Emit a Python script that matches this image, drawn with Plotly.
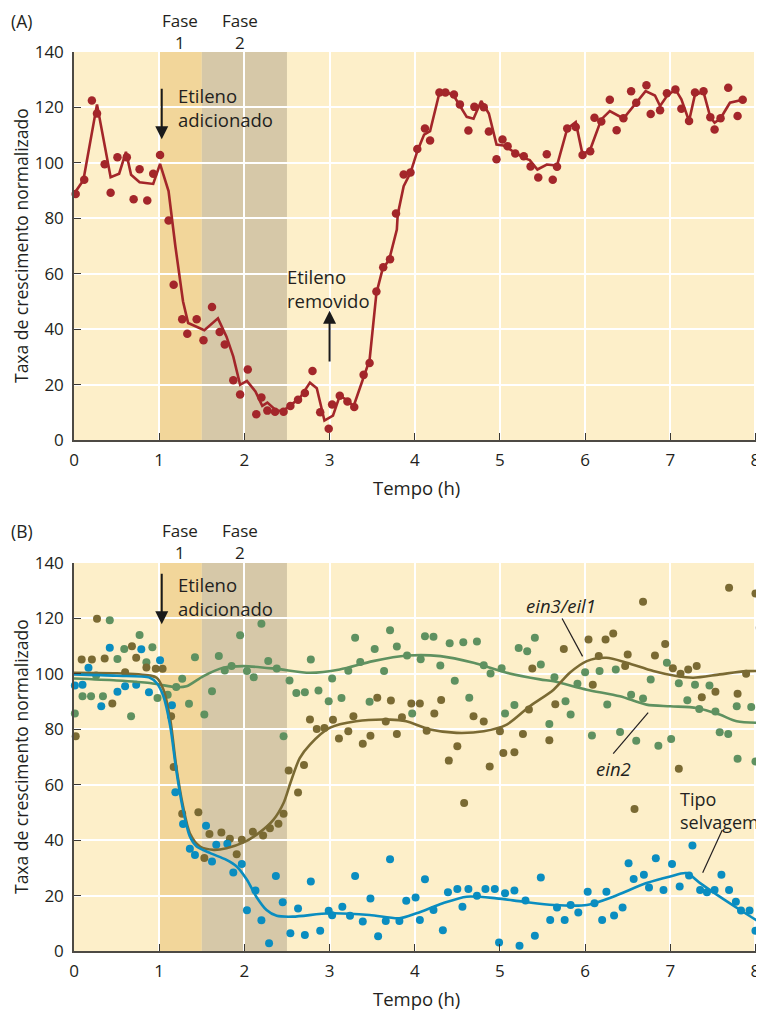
import plotly.graph_objects as go

# ---------------- Panel A data ----------------
a_time = [0.02, 0.12, 0.21, 0.27, 0.36, 0.43, 0.51, 0.62, 0.70, 0.77, 0.86, 0.93, 1.01, 1.11, 1.17,
          1.27, 1.33, 1.44, 1.52, 1.62, 1.71, 1.77, 1.87, 1.95, 2.04, 2.14, 2.20, 2.27, 2.36, 2.46,
          2.54, 2.63, 2.71, 2.80, 2.89, 2.99, 3.03, 3.12, 3.21, 3.29, 3.40, 3.47, 3.55, 3.63, 3.71,
          3.78, 3.87, 3.95, 4.03, 4.12, 4.18, 4.29, 4.36, 4.46, 4.53, 4.63, 4.70, 4.81, 4.87, 4.96,
          5.03, 5.09, 5.18, 5.28, 5.36, 5.45, 5.55, 5.62, 5.67, 5.79, 5.89, 5.97, 6.06, 6.11, 6.19,
          6.29, 6.37, 6.45, 6.54, 6.60, 6.72, 6.77, 6.88, 6.96, 7.06, 7.13, 7.22, 7.29, 7.39, 7.47,
          7.52, 7.59, 7.68, 7.79, 7.85]
a_rate = [88.8, 93.9, 122.5, 117.8, 99.5, 89.2, 102, 102, 86.9, 97.7, 86.4, 96.1, 102.8, 79.2, 56,
          43.6, 38.3, 43.6, 36, 48, 39, 34.5, 21.6, 16.4, 25.4, 9.3, 15.3, 10.6, 10.2, 10.2,
          12.3, 14.5, 17, 24.9, 10, 4.1, 12.8, 16, 13.9, 11.9, 23.5, 27.8, 53.6, 62.3, 65.2,
          81.7, 95.8, 96.5, 105, 112.4, 108.1, 125.4, 125.4, 124.7, 121.1, 111.7, 120.2, 120.1, 111.3, 101.3,
          108.4, 106, 103.4, 102.4, 98.7, 94.7, 103.1, 93.9, 98.6, 112.4, 112.9, 102.8, 104.2, 116.3, 114.9,
          122.8, 111.8, 116.1, 125.8, 121.7, 128, 117.6, 119, 125.1, 126.5, 119.5, 115.1, 125.4, 125.8, 116.5,
          112, 116.1, 127.1, 116.9, 122.8]

a_line_time = [0.0, 0.11, 0.27, 0.43, 0.53, 0.61, 0.67, 0.77, 0.93, 1.01, 1.11, 1.19, 1.28, 1.34, 1.53,
               1.69, 1.79, 1.87, 1.95, 2.03, 2.13, 2.21, 2.27, 2.38, 2.46, 2.54, 2.65, 2.77, 2.85, 2.94,
               3.04, 3.12, 3.22, 3.28, 3.47, 3.55, 3.62, 3.70, 3.79, 3.80, 3.87, 3.95, 4.03, 4.11, 4.18,
               4.29, 4.36, 4.46, 4.53, 4.61, 4.69, 4.78, 4.87, 4.96, 5.04, 5.19, 5.28, 5.35, 5.44, 5.55,
               5.67, 5.79, 5.89, 5.97, 6.06, 6.19, 6.29, 6.45, 6.60, 6.71, 6.82, 6.88, 6.96, 7.06, 7.13,
               7.22, 7.29, 7.39, 7.47, 7.52, 7.59, 7.70, 7.85]
a_line_rate = [88.8, 93.7, 121.1, 94.8, 96.1, 104, 95.7, 93, 92.4, 99.6, 89.8, 69.9, 50, 42.2, 39.6,
               43.9, 37.3, 30.1, 19.9, 21.3, 17.5, 12.3, 13.5, 10.5, 10.6, 12.5, 15.1, 20.7, 18.7, 7,
               8.8, 15.9, 14.2, 12, 28.9, 53, 61.4, 65.1, 75.9, 81.3, 91.6, 96.4, 104.2, 110.2, 111.4,
               125.3, 125.9, 124.1, 120.5, 116.6, 115.9, 122.3, 117.8, 106.6, 106.3, 103.4, 101.8, 101, 97.6, 99.4,
               99, 112.3, 114.7, 103, 104.8, 115.7, 118.7, 116, 121.7, 125.9, 124.3, 120.5, 124.1, 126.5, 122.9,
               115.1, 124.7, 125.5, 116.5, 114.5, 116.1, 121.7, 122.8]

# ---------------- Panel B data ----------------
wt_time = [0.01, 0.10, 0.17, 0.32, 0.42, 0.51, 0.60, 0.73, 0.79, 0.88, 1.01, 1.15, 1.19, 1.28, 1.36,
           1.42, 1.55, 1.62, 1.67, 1.80, 1.87, 1.97, 2.03, 2.13, 2.20, 2.29, 2.37, 2.45, 2.54, 2.63,
           2.71, 2.78, 2.89, 2.99, 3.03, 3.15, 3.24, 3.30, 3.39, 3.48, 3.57, 3.66, 3.71, 3.82, 3.90,
           4.01, 4.06, 4.12, 4.22, 4.33, 4.39, 4.50, 4.56, 4.63, 4.73, 4.83, 4.94, 4.99, 5.06, 5.17,
           5.23, 5.30, 5.41, 5.48, 5.59, 5.67, 5.76, 5.83, 5.92, 6.03, 6.11, 6.20, 6.25, 6.34, 6.44,
           6.51, 6.57, 6.69, 6.75, 6.83, 6.92, 7.02, 7.11, 7.22, 7.26, 7.35, 7.43, 7.52, 7.60, 7.69,
           7.77, 7.83, 7.93, 8.00, 8.07]
wt_rate = [95.8, 96.1, 102.2, 88.3, 109.4, 93.5, 95.5, 96.1, 108.9, 93.4, 104.9, 88.7, 57.3, 45.8, 36.9,
           34.6, 45.2, 32.3, 38.3, 38.7, 28.3, 31.4, 14.7, 21.8, 11.1, 2.8, 27.1, 17.6, 6.4, 15.3,
           5.8, 25.1, 7.3, 14.5, 12.9, 16, 12.7, 27.1, 10.6, 18.9, 5.3, 10.8, 33.1, 10.8, 18.1,
           19.3, 11.2, 25.9, 14.8, 7.5, 21.2, 22.4, 16, 22.4, 19.9, 22.4, 22.4, 3.1, 20.8, 21.8,
           1.9, 18.2, 5.5, 26.5, 11.2, 15.7, 11.2, 16.6, 13.9, 21.4, 17.2, 11.2, 21.4, 12.8, 15.7,
           31.7, 26, 27.5, 22.9, 33.5, 22, 31.4, 23.3, 27.2, 38.1, 22, 21.2, 22, 27.5, 22,
           17.8, 14.6, 14.6, 7.3, 10.2]

ein3_time = [0.02, 0.09, 0.21, 0.27, 0.36, 0.45, 0.60, 0.68, 0.73, 0.85, 0.96, 1.04, 1.14, 1.17, 1.27,
             1.46, 1.53, 1.59, 1.73, 1.83, 1.91, 1.97, 2.10, 2.22, 2.30, 2.40, 2.46, 2.52, 2.63, 2.70,
             2.77, 2.85, 2.94, 3.04, 3.11, 3.22, 3.28, 3.39, 3.48, 3.56, 3.66, 3.72, 3.79, 3.85, 3.96,
             4.06, 4.14, 4.23, 4.31, 4.40, 4.50, 4.58, 4.69, 4.81, 4.88, 5.00, 5.04, 5.17, 5.27, 5.34,
             5.38, 5.58, 5.65, 5.75, 6.04, 6.09, 6.16, 6.24, 6.33, 6.47, 6.50, 6.58, 6.68, 6.82, 6.94,
             7.03, 7.10, 7.12, 7.21, 7.31, 7.37, 7.53, 7.69, 7.79, 7.89, 8.00, 8.05]
ein3_rate = [77.5, 105.2, 105.2, 119.9, 105.5, 89.3, 100.6, 110, 105.8, 102.3, 101.8, 101.8, 84.7, 66.4, 49.5,
             50.1, 33.6, 42.2, 42.8, 40.5, 34.9, 40.1, 43, 41.7, 44.3, 45.9, 49.5, 65.1, 57.2, 67.1,
             83.5, 80.1, 80.5, 83.4, 76.7, 79.3, 84.7, 74.8, 77.7, 91.4, 82.8, 90.4, 78.3, 84.3, 89.3,
             89.3, 79.5, 85.7, 90.6, 68.7, 73.9, 53.4, 84.7, 82.8, 66.6, 79.3, 71.4, 71.7, 78.3, 87.1,
             101.9, 76, 89, 109, 112.4, 96.1, 106.4, 112.4, 114.6, 102.8, 107, 51.2, 126, 106.6, 110.8,
             102, 65.8, 100, 101.6, 102.8, 91.6, 93.5, 131.1, 92.8, 100, 129, 116.6]

ein2_time = [0.01, 0.10, 0.20, 0.26, 0.34, 0.42, 0.51, 0.59, 0.67, 0.77, 0.85, 0.92, 0.98, 1.10, 1.20,
             1.27, 1.35, 1.42, 1.53, 1.62, 1.70, 1.77, 1.85, 1.95, 2.03, 2.11, 2.20, 2.28, 2.38, 2.46,
             2.53, 2.61, 2.71, 2.78, 2.87, 2.99, 3.03, 3.14, 3.22, 3.30, 3.36, 3.47, 3.53, 3.64, 3.71,
             3.79, 3.91, 3.97, 4.07, 4.12, 4.22, 4.30, 4.41, 4.47, 4.57, 4.64, 4.73, 4.81, 4.89, 5.02,
             5.06, 5.17, 5.22, 5.32, 5.41, 5.48, 5.58, 5.64, 5.77, 5.83, 5.91, 6.00, 6.08, 6.17, 6.26,
             6.36, 6.41, 6.54, 6.60, 6.68, 6.77, 6.86, 6.96, 7.01, 7.10, 7.20, 7.29, 7.34, 7.46, 7.53,
             7.58, 7.68, 7.78, 7.79, 7.95, 8.00, 8.06]
ein2_rate = [85.7, 91.9, 91.9, 99.4, 91.9, 119.3, 105.4, 109, 84.7, 114, 104.2, 109.6, 91.3, 92.5, 95.3,
             98.2, 89.2, 106, 85.3, 93.7, 106.4, 101.2, 102.8, 113.9, 101, 98.8, 118.1, 104.6, 101.9, 77.5,
             97.6, 93.1, 93.4, 105.2, 94, 90.1, 98.3, 91.3, 101.1, 113, 104.3, 89.9, 109, 101, 115.7,
             109.9, 106.6, 85.7, 105.3, 113.6, 113.4, 103, 111, 97.5, 111.4, 91.4, 111.7, 103.1, 100.1, 102,
             85.7, 88.8, 109.3, 108.2, 113, 103.4, 81.9, 98.8, 90.1, 85.3, 96.4, 100.6, 77.8, 101, 88.9,
             101.6, 79, 92.5, 75.9, 91.1, 98, 74.1, 104, 76.5, 96.6, 90.5, 96.1, 87.3, 95.8, 86.4,
             78.9, 78.3, 88.3, 69.4, 88, 68.4, 87.3]

wt_fit_time = [0.0, 0.5, 0.89, 0.97, 1.05, 1.13, 1.20, 1.28, 1.36, 1.44, 1.60, 1.79, 1.91, 2.03, 2.14,
               2.26, 2.38, 2.57, 3.0, 3.47, 3.82, 4.02, 4.33, 4.61, 4.96, 5.27, 5.63, 6.02, 6.33, 6.72,
               7.0, 7.19, 7.35, 7.58, 7.82, 8.1]
wt_fit_rate = [99.8, 99.3, 98.6, 96.7, 91.9, 81.1, 65.4, 51, 41.3, 37.7, 35.3, 32.9, 30.5, 25.7, 19.6,
               14.8, 12.7, 12.4, 13.6, 13, 11.8, 13.6, 17.2, 19.6, 19, 17.8, 16.6, 16.6, 19.6, 24.5,
               26.9, 28.1, 24.5, 19.6, 14.8, 9.4]

ein3_fit_time = [0.0, 0.5, 0.89, 0.97, 1.05, 1.13, 1.20, 1.28, 1.36, 1.48, 1.64, 1.79, 1.99, 2.18, 2.34,
                 2.46, 2.54, 2.65, 2.77, 3.0, 3.31, 3.71, 3.90, 4.18, 4.49, 4.81, 5.08, 5.35, 5.63, 5.82,
                 6.02, 6.25, 6.49, 6.80, 7.07, 7.27, 7.58, 7.89, 8.1]
ein3_fit_rate = [100.4, 100.2, 99.4, 98.6, 94.3, 83.5, 66.6, 52.2, 42.5, 37.7, 36.5, 37.1, 39.2, 42.8, 47.3,
                 53.4, 60.6, 69.6, 74.5, 80.5, 82.9, 83.5, 82.9, 79.9, 78.7, 79.3, 81.7, 88.3, 94.3, 100.4,
                 104.6, 105.8, 104, 101, 99.2, 98.6, 99.8, 101, 101]

ein2_fit_time = [0.0, 0.5, 0.89, 1.01, 1.20, 1.32, 1.52, 1.75, 1.99, 2.38, 2.77, 3.12, 3.51, 3.91, 4.30,
                 4.69, 5.08, 5.47, 5.63, 6.02, 6.41, 6.72, 7.0, 7.31, 7.58, 7.78, 8.1]
ein2_fit_rate = [98.3, 97.6, 96.7, 96.1, 95.2, 95.5, 99.2, 102.2, 102.8, 101.8, 100.4, 101.6, 104.6, 106.6, 106.4,
                 104, 100.4, 98, 97.3, 94.3, 91.9, 88.9, 88.3, 87.7, 85.3, 82.9, 82.3]

x_ticks = [0, 1, 2, 3, 4, 5, 6, 7, 8]
y_ticks = [0, 20, 40, 60, 80, 100, 120, 140]
phase1 = [1.0, 1.5]
phase2 = [1.5, 2.5]

# ---------------- styling ----------------
PAGE_OFF = 8            # browser body margin
W, H = 764 - PAGE_OFF, 1010 - PAGE_OFF
FONT = "Open Sans"
TXT = "#231f20"
BG = "#FDEFC9"
PH1 = "#F2D69A"
PH2 = "#D6C8A8"
RED = "#A3262A"
BLUE = "#0A8DC0"
OLIVE = "#7A6A33"
GREEN = "#5F9160"


def px(x):
    return (x - PAGE_OFF) / W


def py(y):
    return 1 - (y - PAGE_OFF) / H


fig = go.Figure()

# Panel A
fig.add_trace(go.Scatter(x=a_line_time, y=a_line_rate, mode="lines",
                         line=dict(color=RED, width=2.6), xaxis="x", yaxis="y", showlegend=False))
fig.add_trace(go.Scatter(x=a_time, y=a_rate, mode="markers", cliponaxis=False,
                         marker=dict(color=RED, size=8.5), xaxis="x", yaxis="y", showlegend=False))

# Panel B
for t, r, c in [(ein2_time, ein2_rate, GREEN), (ein3_time, ein3_rate, OLIVE), (wt_time, wt_rate, BLUE)]:
    fig.add_trace(go.Scatter(x=t, y=r, mode="markers", cliponaxis=False,
                             marker=dict(color=c, size=8), xaxis="x2", yaxis="y2", showlegend=False))
for t, r, c in [(ein2_fit_time, ein2_fit_rate, GREEN), (ein3_fit_time, ein3_fit_rate, OLIVE),
                (wt_fit_time, wt_fit_rate, BLUE)]:
    fig.add_trace(go.Scatter(x=t, y=r, mode="lines",
                             line=dict(color=c, width=2.6, shape="spline", smoothing=0.8),
                             xaxis="x2", yaxis="y2", showlegend=False))

axis_common = dict(
    automargin=False, showgrid=True, gridcolor="white", gridwidth=1.5, zeroline=False,
    showline=True, linecolor="#4d4a44", linewidth=1.5, ticks="inside", ticklen=7,
    tickcolor="#3a3833", tickwidth=1.2, tickfont=dict(family=FONT, size=17, color=TXT),
)

xd = [px(74), 1.0]
yA = [py(440), py(52)]
yB = [py(951), py(563)]

fig.update_layout(
    width=W, height=H, margin=dict(l=0, r=0, t=0, b=0, pad=0), autosize=False,
    paper_bgcolor="white", plot_bgcolor=BG,
    font=dict(family=FONT, color=TXT),
    xaxis=dict(axis_common, range=[0, 8.1], domain=xd, anchor="y", tickvals=x_ticks, ticklabelstandoff=4),
    yaxis=dict(axis_common, range=[0, 140], domain=yA, anchor="x", tickvals=y_ticks, ticklabelstandoff=5),
    xaxis2=dict(axis_common, range=[0, 8.1], domain=xd, anchor="y2", tickvals=x_ticks, ticklabelstandoff=4),
    yaxis2=dict(axis_common, range=[0, 140], domain=yB, anchor="x2", tickvals=y_ticks, ticklabelstandoff=5),
)

shapes = []
for xr, yr in [("x", "y"), ("x2", "y2")]:
    shapes.append(dict(type="rect", xref=xr, yref=yr, x0=phase1[0], x1=phase1[1], y0=0, y1=140,
                       fillcolor=PH1, line=dict(width=0), layer="below"))
    shapes.append(dict(type="rect", xref=xr, yref=yr, x0=phase2[0], x1=phase2[1], y0=0, y1=140,
                       fillcolor=PH2, line=dict(width=0), layer="below"))
# leader lines for labels in panel B
for (x0, y0, x1, y1) in [(5.73, 120, 5.97, 106.3), (6.33, 71.2, 6.74, 86.0), (7.38, 28.2, 7.61, 43.7)]:
    shapes.append(dict(type="line", xref="x2", yref="y2", x0=x0, y0=y0, x1=x1, y1=y1,
                       line=dict(color="#231f20", width=1.2)))
fig.update_layout(shapes=shapes)

ann = []


def txt(x, y, s, size=18, xanchor="center", yanchor="middle", **kw):
    ann.append(dict(x=px(x), y=py(y), xref="paper", yref="paper", text=s, showarrow=False,
                    xanchor=xanchor, yanchor=yanchor, font=dict(family=FONT, size=size, color=TXT), **kw))


for top, lab in [(0, "(A)"), (510, "(B)")]:
    txt(9, top + 21, lab, size=17.5, xanchor="left")
    txt(180, top + 31, "Fase<br>1", size=17)
    txt(240, top + 31, "Fase<br>2", size=17)

txt(416, 487, "Tempo (h)", size=18.5)
txt(416, 998, "Tempo (h)", size=18.5)
txt(21, 246, "Taxa de crescimento normalizado", size=17.5, textangle=-90)
txt(21, 757, "Taxa de crescimento normalizado", size=17.5, textangle=-90)

txt(176, 108, "Etileno<br>adicionado", size=18.5, xanchor="left", align="left")
txt(176, 596, "Etileno<br>adicionado", size=18.5, xanchor="left", align="left")
txt(285, 288, "Etileno<br>removido", size=18.5, xanchor="left", align="left")
txt(561, 605, "<i>ein3/eil1</i>", size=18.5)
txt(613, 768, "<i>ein2</i>", size=18.5)
txt(678, 810, "Tipo<br>selvagem", size=18, xanchor="left", align="left")

# arrows
for xr, yr, x, yh, yt in [("x", "y", 1.03, 108.5, 127.3), ("x2", "y2", 1.03, 117.9, 136.7),
                          ("x", "y", 3.0, 46.6, 27.8)]:
    ann.append(dict(x=x, y=yh, ax=x, ay=yt, xref=xr, yref=yr, axref=xr, ayref=yr, text="",
                    showarrow=True, arrowhead=2, arrowsize=1.3, arrowwidth=2, arrowcolor="#1a1a1a"))

fig.update_layout(annotations=ann)
fig.write_html("out.html")
